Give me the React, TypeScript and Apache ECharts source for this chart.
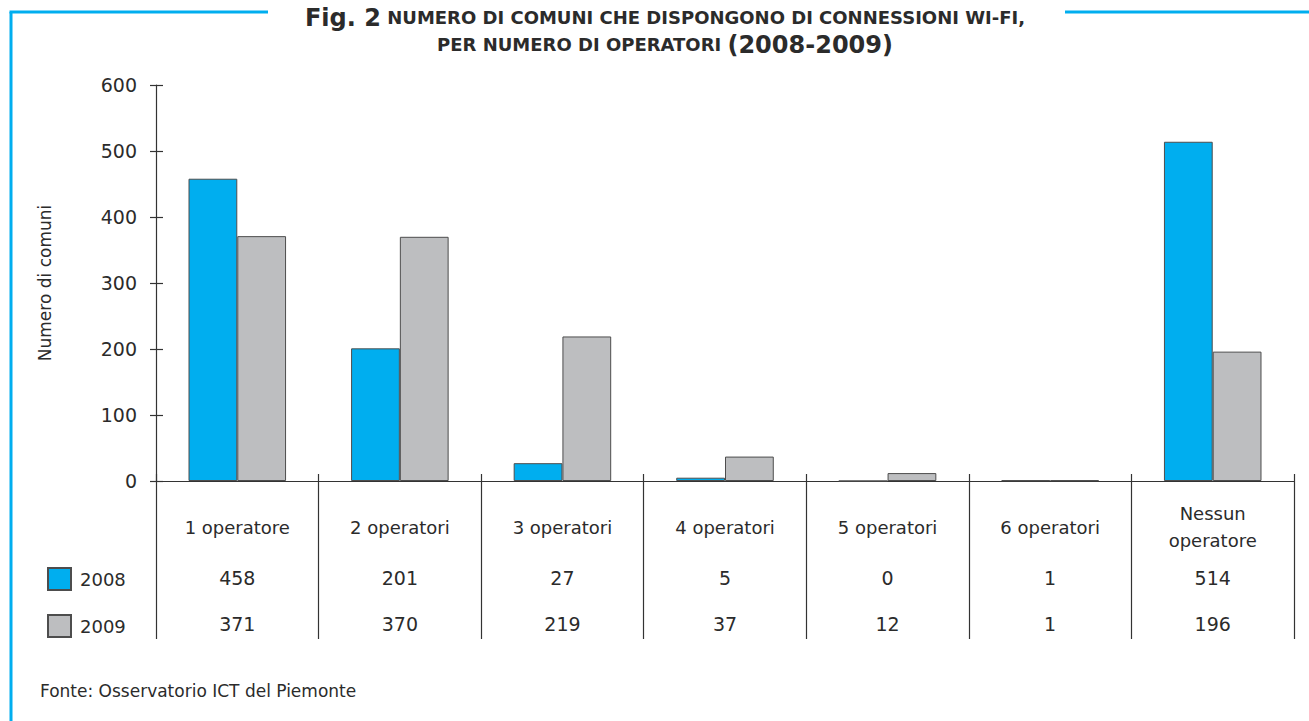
import React, { useEffect, useRef } from "react";
import * as echarts from "echarts";

const categories = ["1 operatore", "2 operatori", "3 operatori", "4 operatori", "5 operatori", "6 operatori", "Nessun\noperatore"];
const values2008 = [458, 201, 27, 5, 0, 1, 514];
const values2009 = [371, 370, 219, 37, 12, 1, 196];
const yTicks = { min: 0, max: 600, interval: 100 };

const FONT = "DejaVu Sans";
const TXT = "#2b2b2b";
const BLUE = "#00AEEF";
const GRAY = "#BDBEC0";
const EDGE = "#4d4d4d";

export default function App() {
  const ref = useRef<HTMLDivElement>(null);
  useEffect(() => {
    if (!ref.current) return;
    const chart = echarts.init(ref.current, null, { renderer: "svg" });
    const gridLeft = 156, gridTop = 85, gridW = 1138, gridH = 396;
    const hiddenAxisBase = {
      type: "category" as const,
      gridIndex: 0,
      position: "bottom" as const,
      axisLine: { show: false },
      axisTick: { show: false },
      splitLine: { show: false },
    };
    chart.setOption({
      animation: false,
      textStyle: { fontFamily: FONT, color: TXT },
      title: {
        left: 660,
        top: -1,
        textAlign: "center",
        text: "{a|Fig. 2} {b|NUMERO DI COMUNI CHE DISPONGONO DI CONNESSIONI WI-FI,}\n{b|PER NUMERO DI OPERATORI} {a|(2008-2009)}",
        textStyle: {
          rich: {
            a: { fontFamily: FONT, fontSize: 24, fontWeight: "bold", color: TXT, lineHeight: 27 },
            b: { fontFamily: FONT, fontSize: 18, fontWeight: "bold", color: TXT, lineHeight: 27 },
          },
        },
      },
      legend: {
        orient: "vertical",
        left: 47,
        top: 567,
        padding: 0,
        itemWidth: 23,
        itemHeight: 22,
        itemGap: 23,
        icon: "rect",
        textStyle: { fontFamily: FONT, fontSize: 18, color: TXT, padding: [0, 0, 2, 4] },
        data: ["2008", "2009"],
      },
      grid: { left: gridLeft, top: gridTop, width: gridW, height: gridH, containLabel: false },
      xAxis: [
        {
          type: "category",
          data: categories,
          axisLine: { show: true, lineStyle: { color: "#333", width: 1.2 } },
          axisTick: { show: true, interval: 0, length: 158, lineStyle: { color: "#333", width: 1.2 } },
          axisLabel: {
            interval: 0,
            margin: 46,
            verticalAlign: "middle",
            fontFamily: FONT,
            fontSize: 18,
            color: TXT,
            lineHeight: 27,
          },
        },
        {
          ...hiddenAxisBase,
          data: values2008.map(String),
          axisLabel: { interval: 0, margin: 97, verticalAlign: "middle", fontFamily: FONT, fontSize: 19, color: TXT },
        },
        {
          ...hiddenAxisBase,
          data: values2009.map(String),
          axisLabel: { interval: 0, margin: 143, verticalAlign: "middle", fontFamily: FONT, fontSize: 19, color: TXT },
        },
        {
          ...hiddenAxisBase,
          data: categories,
          axisTick: { show: true, inside: true, interval: 0, length: 7, lineStyle: { color: "#333", width: 1.2 } },
          axisLabel: { show: false },
        },
      ],
      yAxis: [
        {
          type: "value",
          min: yTicks.min,
          max: yTicks.max,
          interval: yTicks.interval,
          name: "Numero di comuni",
          nameLocation: "middle",
          nameRotate: 90,
          nameGap: 103,
          nameTextStyle: { fontFamily: FONT, fontSize: 17, color: TXT },
          axisLine: { show: true, lineStyle: { color: "#333", width: 1.2 } },
          axisTick: { show: true, length: 6, lineStyle: { color: "#333", width: 1.2 } },
          axisLabel: { margin: 19, fontFamily: FONT, fontSize: 19, color: TXT },
          splitLine: { show: false },
        },
        {
          type: "value",
          min: yTicks.min,
          max: yTicks.max,
          interval: yTicks.interval,
          position: "left",
          axisLine: { show: false },
          axisTick: { show: true, inside: true, length: 7, lineStyle: { color: "#333", width: 1.2 } },
          axisLabel: { show: false },
          splitLine: { show: false },
        },
      ],
      series: [
        {
          name: "2008",
          type: "bar",
          data: values2008,
          barGap: "0%",
          barCategoryGap: "40%",
          itemStyle: { color: BLUE, borderColor: EDGE, borderWidth: 1 },
        },
        {
          name: "2009",
          type: "bar",
          data: values2009,
          barGap: "0%",
          barCategoryGap: "40%",
          itemStyle: { color: GRAY, borderColor: EDGE, borderWidth: 1 },
        },
      ],
      graphic: [
        { type: "line", shape: { x1: 11, y1: 12, x2: 11, y2: 721 }, style: { stroke: BLUE, lineWidth: 3 } },
        { type: "line", shape: { x1: 9.5, y1: 12, x2: 268, y2: 12 }, style: { stroke: BLUE, lineWidth: 3 } },
        { type: "line", shape: { x1: 1065, y1: 12, x2: 1309, y2: 12 }, style: { stroke: BLUE, lineWidth: 3 } },
        {
          type: "text",
          left: 40,
          top: 682,
          style: { text: "Fonte: Osservatorio ICT del Piemonte", fontFamily: FONT, fontSize: 17, fill: TXT },
        },
      ],
    });
    return () => chart.dispose();
  }, []);
  return <div ref={ref} style={{ position: "fixed", left: 0, top: 0, width: 1309, height: 721, background: "#fff" }} />;
}
